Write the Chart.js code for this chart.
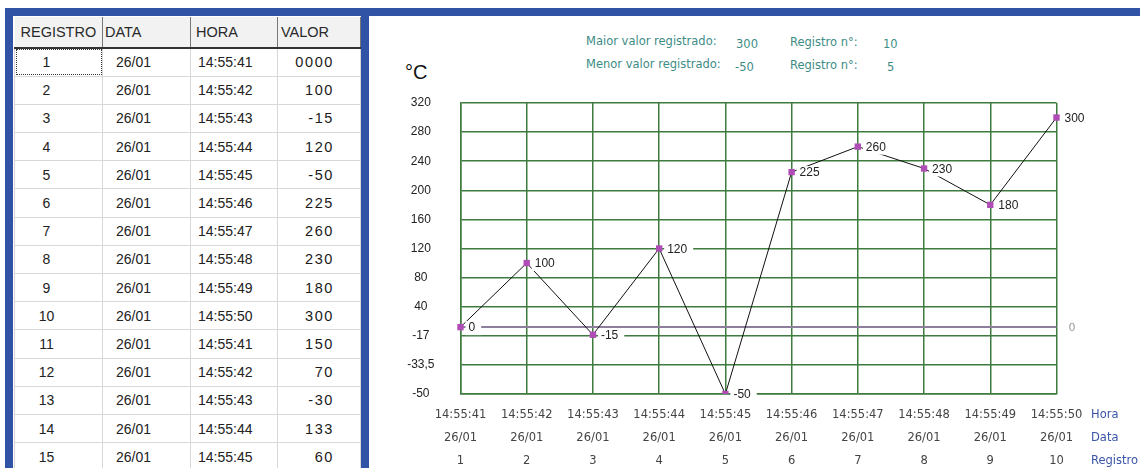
<!DOCTYPE html>
<html>
<head>
<meta charset="utf-8">
<script src="https://cdn.jsdelivr.net/npm/chart.js@4.4.1/dist/chart.umd.min.js"></script>
<style>
    html, body { margin: 0; padding: 0; width: 1140px; height: 468px; overflow: hidden; background: #fff; }
    .bar { position: absolute; left: 5px; top: 8px; width: 1135px; height: 8px; background: #3153a6; }
    .frame { position: absolute; left: 5px; top: 8px; width: 348px; height: 460px;
             border-left: 8px solid #3153a6; border-right: 8px solid #3153a6; }
    #tabela { position: absolute; left: 14px; top: 17px; width: 346px; border-collapse: collapse; table-layout: fixed; }
    #tabela th { font: 14.5px "Liberation Sans", Arial, sans-serif; color: #2a2a2a; text-align: left; padding: 0 0 0 4px;
                 background: #f2f2f2; border-right: 1px solid #777; border-bottom: 2px solid #333; }
    #tabela thead tr { height: 31px; }
    #tabela tbody tr { height: 28.2px; }
    #tabela td { font: 14px "Liberation Sans", Arial, sans-serif; color: #222; padding: 0;
                 border: 1px solid #d8d8d8; white-space: nowrap; }
    #tabela td.reg { text-align: center; padding-right: 24px; }
    #tabela td.dat { padding-left: 13px; }
    #tabela td.hor { padding-left: 7px; }
    #tabela td.val { text-align: right; padding-right: 26px; font: 14.5px "Liberation Sans", Arial, sans-serif; letter-spacing: 1.6px; color: #1a1a1a; }
    #tabela tbody tr:first-child td.reg { outline: 1px dotted #333; outline-offset: -2px; }
    .unit { position: absolute; left: 405px; top: 62px; font: 20px "Liberation Sans", Arial, sans-serif; line-height: 20px; color: #111; }
    .info { position: absolute; font: 11.5px "DejaVu Sans", Verdana, sans-serif; line-height: 14px; color: #3d8c85; white-space: nowrap; }
    .eixo { position: absolute; left: 1091px; font: 11.5px "DejaVu Sans", Verdana, sans-serif; line-height: 14px; color: #3a55a8; }
    #grafico { position: absolute; left: 370px; top: 16px; width: 770px; height: 452px; }
</style>
</head>
<body>
<div class="bar"></div>
<div class="frame"></div>
<table id="tabela">
    <colgroup><col style="width:88px"><col style="width:88px"><col style="width:87px"><col style="width:83px"></colgroup>
    <thead><tr><th style="padding-left:6px">REGISTRO</th><th style="padding-left:2px">DATA</th><th style="padding-left:5px">HORA</th><th style="padding-left:3px">VALOR</th></tr></thead>
    <tbody></tbody>
</table>

<div class="unit">°C</div>
<div class="info" style="left:586px; top:34px">Maior valor registrado:</div>
<div class="info" id="maxValor" style="left:736px; top:37px"></div>
<div class="info" style="left:790px; top:35px">Registro n°:</div>
<div class="info" id="maxReg" style="left:883px; top:37px"></div>
<div class="info" style="left:586px; top:57px">Menor valor registrado:</div>
<div class="info" id="minValor" style="left:735px; top:60px"></div>
<div class="info" style="left:790px; top:58px">Registro n°:</div>
<div class="info" id="minReg" style="left:887px; top:60px"></div>

<div id="grafico"><canvas id="chart"></canvas></div>
<div class="eixo" style="top:407px">Hora</div>
<div class="eixo" style="top:430px">Data</div>
<div class="eixo" style="top:453px">Registro</div>

<script>
// Table rows (registro / data / hora / valor)
const registros = [1, 2, 3, 4, 5, 6, 7, 8, 9, 10, 11, 12, 13, 14, 15];
const datas = ['26/01', '26/01', '26/01', '26/01', '26/01', '26/01', '26/01', '26/01', '26/01', '26/01', '26/01', '26/01', '26/01', '26/01', '26/01'];
const horas = ['14:55:41', '14:55:42', '14:55:43', '14:55:44', '14:55:45', '14:55:46', '14:55:47', '14:55:48', '14:55:49', '14:55:50',
               '14:55:41', '14:55:42', '14:55:43', '14:55:44', '14:55:45'];
const valores = [0, 100, -15, 120, -50, 225, 260, 230, 180, 300, 150, 70, -30, 133, 60];
const valorTexto = ['0000', '100', '-15', '120', '-50', '225', '260', '230', '180', '300', '150', '70', '-30', '133', '60'];

// The chart shows the first 10 records
const numPontos = 10;

// Y axis: evenly spaced grid lines with these values
const yTicks = [320, 280, 240, 200, 160, 120, 80, 40, -17, -33.5, -50];
const yTickLabels = ['320', '280', '240', '200', '160', '120', '80', '40', '-17', '-33,5', '-50'];

// Fill the table
const tbody = document.querySelector('#tabela tbody');
registros.forEach((r, i) => {
    const tr = document.createElement('tr');
    tr.innerHTML = `<td class="reg">${r}</td><td class="dat">${datas[i]}</td><td class="hor">${horas[i]}</td><td class="val">${valorTexto[i]}</td>`;
    tbody.appendChild(tr);
});

// Max / min of the plotted records
const plotados = valores.slice(0, numPontos);
const maxV = Math.max(...plotados);
const minV = Math.min(...plotados);
document.getElementById('maxValor').textContent = maxV;
document.getElementById('maxReg').textContent = registros[plotados.indexOf(maxV)];
document.getElementById('minValor').textContent = minV;
document.getElementById('minReg').textContent = registros[plotados.indexOf(minV)];

// Scale whose grid lines are evenly spaced between the values in yTicks
class SegmentedScale extends Chart.LinearScale {
    buildTicks() {
        return yTicks.map(v => ({ value: v }));
    }
    _pos(value) {
        const n = yTicks.length - 1;
        if (value >= yTicks[0]) return 0;
        for (let i = 0; i < n; i++) {
            const a = yTicks[i], b = yTicks[i + 1];
            if (value <= a && value >= b) return i + (a - value) / (a - b);
        }
        return n;
    }
    getPixelForValue(value) {
        return this.getPixelForDecimal(1 - this._pos(value) / (yTicks.length - 1));
    }
    getValueForPixel(pixel) {
        const n = yTicks.length - 1;
        const pos = (1 - this.getDecimalForPixel(pixel)) * n;
        const i = Math.max(0, Math.min(Math.floor(pos), n - 1));
        return yTicks[i] + (yTicks[i + 1] - yTicks[i]) * (pos - i);
    }
}
SegmentedScale.id = 'segmented';
SegmentedScale.defaults = Chart.LinearScale.defaults;
Chart.register(SegmentedScale);

// Horizontal reference line at zero, with its label on the right
const zeroLine = {
    id: 'zeroLine',
    beforeDatasetsDraw(chart) {
        const { ctx, chartArea, scales } = chart;
        const y = scales.y.getPixelForValue(0);
        ctx.save();
        ctx.strokeStyle = '#8d7f9c';
        ctx.lineWidth = 2;
        ctx.beginPath();
        ctx.moveTo(chartArea.left, y);
        ctx.lineTo(chartArea.right, y);
        ctx.stroke();
        ctx.fillStyle = '#999';
        ctx.font = '11px "DejaVu Sans"';
        ctx.textBaseline = 'middle';
        ctx.fillText('0', chartArea.right + 12, y + 1);
        ctx.restore();
    }
};

// Value labels to the right of each point, on a white box
const pointLabels = {
    id: 'pointLabels',
    afterDatasetsDraw(chart) {
        const { ctx } = chart;
        const meta = chart.getDatasetMeta(0);
        ctx.save();
        ctx.font = '12px "Liberation Sans", Arial';
        ctx.textBaseline = 'middle';
        meta.data.forEach((pt, i) => {
            const txt = String(chart.data.datasets[0].data[i]);
            const w = ctx.measureText(txt).width;
            ctx.fillStyle = '#fff';
            ctx.fillRect(pt.x + 5, pt.y - 6, w + 9, 14);
            ctx.fillStyle = '#222';
            ctx.fillText(txt, pt.x + 8, pt.y + 1);
        });
        ctx.restore();
    }
};

const gridGreen = '#3f7b3f';

new Chart(document.getElementById('chart'), {
    type: 'line',
    data: {
        labels: horas.slice(0, numPontos).map((h, i) => [h, datas[i], String(registros[i])]),
        datasets: [{
            data: plotados,
            borderColor: '#111',
            borderWidth: 1,
            tension: 0,
            pointStyle: 'rect',
            pointRadius: 4.5,
            pointBorderWidth: 0,
            pointBackgroundColor: '#b04cb5'
        }]
    },
    options: {
        responsive: true,
        maintainAspectRatio: false,
        animation: false,
        events: [],
        layout: { padding: { top: 87, right: 83.5, left: 0, bottom: 0 } },
        plugins: {
            legend: { display: false },
            tooltip: { enabled: false }
        },
        scales: {
            x: {
                type: 'category',
                offset: false,
                grid: { color: gridGreen, lineWidth: 1.5, drawTicks: false },
                border: { color: gridGreen, width: 1.5 },
                ticks: {
                    autoSkip: false,
                    maxRotation: 0,
                    padding: 10,
                    color: '#444',
                    font: { family: 'DejaVu Sans', size: 11.5, lineHeight: 2 }
                },
                afterFit: (s) => { s.height = 74; }
            },
            y: {
                type: 'segmented',
                min: -50,
                max: 320,
                grid: { color: gridGreen, lineWidth: 1.5, drawTicks: false },
                border: { color: gridGreen, width: 1.5 },
                ticks: {
                    autoSkip: false,
                    padding: 26,
                    crossAlign: 'center',
                    color: '#222',
                    font: { family: 'Liberation Sans', size: 12 },
                    callback: (v, i) => yTickLabels[i]
                },
                afterFit: (s) => { s.width = 90.5; }
            }
        }
    },
    plugins: [zeroLine, pointLabels]
});
</script>
</body>
</html>
